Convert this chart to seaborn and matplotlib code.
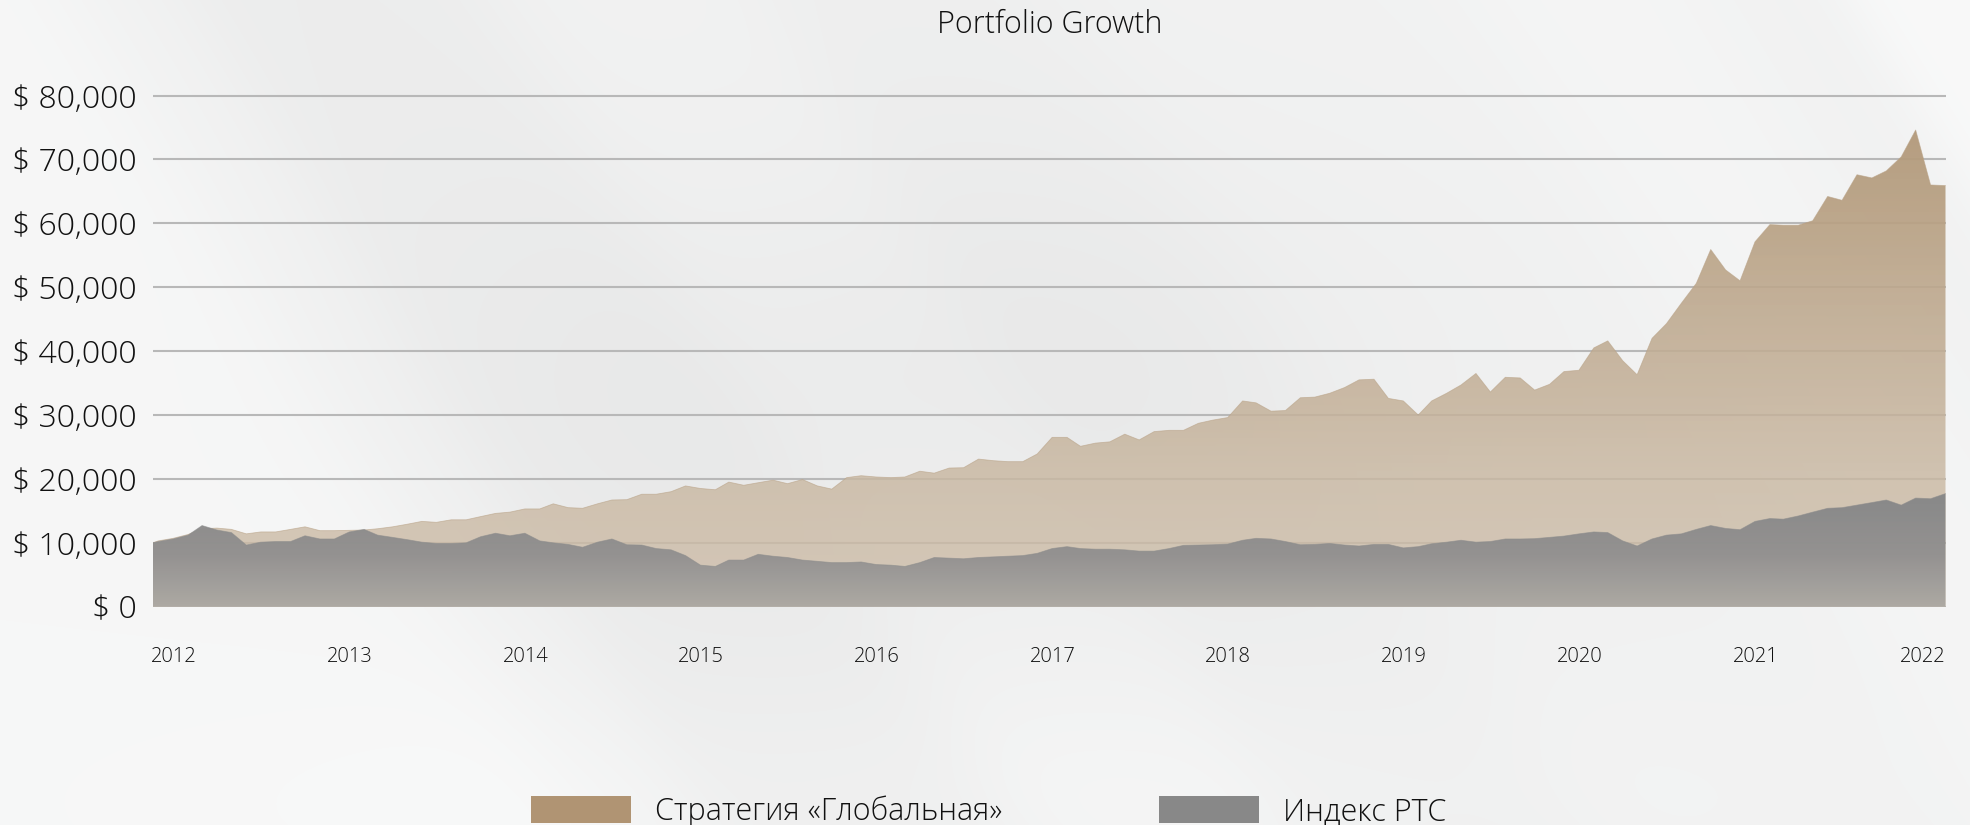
import numpy as np
import pandas as pd
import matplotlib
matplotlib.use("Agg")
import matplotlib.pyplot as plt
import matplotlib.dates as mdates
from matplotlib.patches import Patch
from matplotlib.ticker import FuncFormatter
import seaborn as sns

# ---------------- data ----------------
start_date = "2011-11-19"
first_month_end = "2011-11-30"
n_month_ends = 123

strategy_values = [
    10000,
    10300, 10700, 11300, 12200, 12300, 12100, 11400, 11700, 11700, 12100,
    12500, 11900, 11900, 11950, 12000, 12200, 12500, 12900, 13350, 13200,
    13600, 13600, 14100, 14600, 14800, 15300, 15300, 16100, 15500, 15400,
    16100, 16700, 16750, 17600, 17600, 18000, 18900, 18500, 18300, 19500,
    19000, 19400, 19800, 19250, 19900, 18900, 18400, 20200, 20500, 20300,
    20200, 20300, 21200, 20900, 21700, 21750, 23100, 22850, 22700, 22700,
    23900, 26500, 26500, 25100, 25600, 25800, 27000, 26100, 27400, 27600,
    27600, 28700, 29200, 29600, 32200, 31900, 30600, 30700, 32700, 32800,
    33400, 34300, 35500, 35600, 32600, 32200, 30000, 32200, 33400, 34700,
    36500, 33600, 35900, 35800, 33900, 34800, 36800, 37000, 40500, 41600,
    38500, 36300, 42000, 44300, 47500, 50600, 55900, 52700, 51000, 57100,
    59800, 59700, 59700, 60400, 64200, 63600, 67600, 67100, 68200, 70400,
    74600, 66000, 65900,
]

rts_values = [
    10000,
    10200, 10600, 11200, 12700, 12000, 11600, 9650, 10100, 10200, 10200,
    11100, 10600, 10600, 11700, 12100, 11200, 10850, 10500, 10100, 9900,
    9900, 10000, 10950, 11500, 11100, 11500, 10300, 10000, 9750, 9300,
    10100, 10600, 9700, 9650, 9100, 8900, 8000, 6500, 6300, 7300,
    7300, 8200, 7900, 7700, 7300, 7100, 6900, 6900, 7000, 6600,
    6500, 6300, 6900, 7700, 7600, 7500, 7700, 7800, 7900, 8000,
    8350, 9100, 9400, 9100, 9000, 9000, 8900, 8700, 8700, 9100,
    9600, 9650, 9700, 9800, 10400, 10700, 10600, 10200, 9700, 9750,
    9900, 9650, 9500, 9750, 9750, 9200, 9400, 9850, 10100, 10400,
    10100, 10200, 10600, 10600, 10650, 10850, 11050, 11400, 11700, 11600,
    10300, 9500, 10600, 11200, 11400, 12100, 12700, 12250, 12050, 13350,
    13800, 13700, 14200, 14800, 15400, 15500, 15900, 16300, 16700, 15900,
    17000, 16900, 17700,
]

series_labels = ["Стратегия «Глобальная»", "Индекс РТС"]
year_labels = ["2012", "2013", "2014", "2015", "2016", "2017",
               "2018", "2019", "2020", "2021", "2022"]
y_tick_values = [0, 10000, 20000, 30000, 40000, 50000, 60000, 70000, 80000]
title_text = "Portfolio Growth"

# ---------------- styling ----------------
sns.set_theme(style="white")
plt.rcParams["font.family"] = ["Open Sans", "DejaVu Sans"]
plt.rcParams["font.weight"] = "light"

TEXT = "#111111"
TAN_LEGEND = "#b09473"
GRAY_LEGEND = "#888888"

dates = pd.DatetimeIndex([pd.Timestamp(start_date)]).append(
    pd.date_range(first_month_end, periods=n_month_ends, freq=pd.offsets.MonthEnd()))
df = pd.DataFrame({"date": dates, "strategy": strategy_values, "rts": rts_values})
xnum = mdates.date2num(df["date"])

W_PX, H_PX = 1970, 825
fig = plt.figure(figsize=(W_PX / 100, H_PX / 100), dpi=100)

# ---------------- background ----------------
yy, xx = np.mgrid[0:H_PX, 0:W_PX].astype(float)
u = (1.6 * xx - yy) / 1.887
def sig(v, w):
    return 1.0 / (1.0 + np.exp(-v / w))
bgv = np.full((H_PX, W_PX), 242.0)
bgv += 5 * (1 - sig(u - 60, 25))
bgv -= 5 * (sig(u - 160, 20) - sig(u - 420, 25))
bgv -= 3 * (sig(u - 650, 20) - sig(u - 900, 30))
bgv += 3 * (sig(u - 1250, 30) - sig(u - 1450, 30))
bgv += 7 * sig(u - 1570, 15)
bgv -= 6 * np.exp(-(((xx - 950) / 480) ** 2 + ((yy - 380) / 230) ** 2))
bgv += 3 * np.exp(-(((xx - 1000) / 700) ** 2 + ((yy - 800) / 120) ** 2))
bgv = np.clip(bgv, 0, 255) / 255.0
bgimg = np.dstack([bgv * 0.998, bgv, bgv])
bg = fig.add_axes([0, 0, 1, 1], zorder=0)
bg.imshow(bgimg, aspect="auto", extent=[0, 1, 0, 1], interpolation="bilinear")
bg.axis("off")

# ---------------- main axes ----------------
L, R = 153 / W_PX, 1945.5 / W_PX
y0_px, y80_px = 606.7, 95.5
ymax = 81000
top_px = y0_px - (y0_px - y80_px) * ymax / 80000
ax = fig.add_axes([L, (H_PX - y0_px) / H_PX, R - L, (y0_px - top_px) / H_PX], zorder=1)
ax.set_facecolor("none")

def gradient_fill(yvals, stops, zorder):
    poly = ax.fill_between(xnum, 0, yvals, facecolor="none", edgecolor="none", zorder=zorder)
    levels = np.linspace(0, ymax, 400)
    sv = np.array([s[0] for s in stops])
    cols = np.array([s[1] for s in stops], dtype=float)
    rgba = np.stack([np.interp(levels, sv, cols[:, i]) for i in range(4)], axis=1)
    rgba[:, :3] /= 255.0
    img = ax.imshow(rgba[:, None, :], extent=[xnum[0], xnum[-1], 0, ymax],
                    origin="lower", aspect="auto", zorder=zorder, interpolation="bilinear")
    img.set_clip_path(poly.get_paths()[0], transform=ax.transData)
    return img

tan_stops = [(0, (206, 190, 170, 0.78)), (20000, (201, 184, 162, 0.82)),
             (40000, (193, 173, 148, 0.88)), (60000, (185, 162, 133, 0.93)),
             (81000, (176, 150, 118, 0.97))]
gray_stops = [(0, (172, 168, 163, 0.97)), (8000, (146, 145, 144, 0.97)),
              (16000, (137, 137, 137, 0.98)), (81000, (136, 136, 136, 0.98))]

gradient_fill(df["strategy"].values, tan_stops, 2)
gradient_fill(df["rts"].values, gray_stops, 3)
sns.lineplot(data=df, x=xnum, y="strategy", ax=ax, color=(0.72, 0.63, 0.52), linewidth=0.6,
             alpha=0.6, zorder=2.5, legend=False)
sns.lineplot(data=df, x=xnum, y="rts", ax=ax, color=(0.55, 0.55, 0.55), linewidth=0.6,
             alpha=0.6, zorder=3.5, legend=False)
ax.set_xlim(xnum[0], xnum[-1])
ax.set_ylim(0, ymax)

# grid & ticks
ax.set_yticks(y_tick_values)
ax.yaxis.set_major_formatter(FuncFormatter(lambda v, p: f"$ {v:,.0f}"))
ax.grid(axis="y", color="#b8b8b8", linewidth=1.5, zorder=1)
ax.grid(axis="x", visible=False)
ax.set_axisbelow(True)
for s in ax.spines.values():
    s.set_visible(False)

tick_pos = [mdates.date2num(pd.Timestamp(f"{y}-01-01")) for y in year_labels[:-1]] + [xnum[-1]]
ax.set_xticks(tick_pos)
ax.set_xticklabels(year_labels)
ax.get_xticklabels()[-1].set_ha("right")
ax.tick_params(axis="x", length=0, pad=29, labelsize=14.5, labelcolor=TEXT)
ax.tick_params(axis="y", length=0, pad=12, labelsize=23, labelcolor=TEXT)
ax.set_xlabel("")
ax.set_ylabel("")

# title
fig.text((L + R) / 2, (H_PX - 33) / H_PX, title_text, ha="center", va="baseline",
         fontsize=22, color=TEXT, fontweight="light")

# legend
handles = [Patch(facecolor=TAN_LEGEND, edgecolor="none", label=series_labels[0]),
           Patch(facecolor=GRAY_LEGEND, edgecolor="none", label=series_labels[1])]
fig.legend(handles=handles, loc="lower left", bbox_to_anchor=(531 / W_PX, -0.004),
           ncol=2, frameon=False, fontsize=22, handlelength=3.27, handleheight=0.98,
           handletextpad=0.78, columnspacing=5.13, borderpad=0, borderaxespad=0,
           labelcolor=TEXT)

fig.savefig("out.png", dpi=100)
